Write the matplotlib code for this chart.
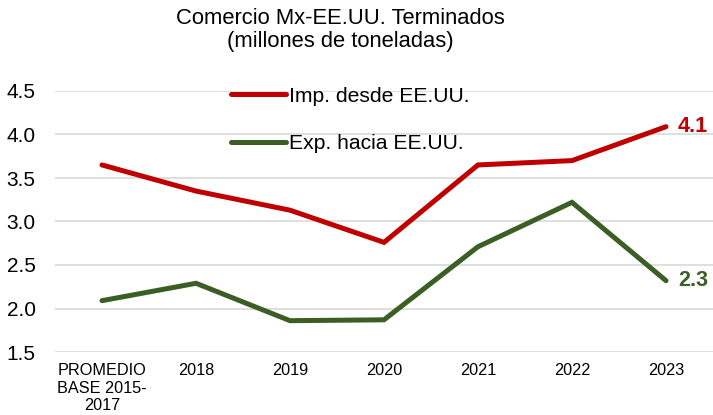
import matplotlib
matplotlib.use("Agg")
import matplotlib.pyplot as plt

categories = ["PROMEDIO\nBASE 2015-\n2017", "2018", "2019", "2020", "2021", "2022", "2023"]
imp_vals = [3.65, 3.35, 3.13, 2.76, 3.65, 3.70, 4.09]
exp_vals = [2.09, 2.29, 1.86, 1.87, 2.71, 3.22, 2.32]
yticks = [1.5, 2.0, 2.5, 3.0, 3.5, 4.0, 4.5]

plt.rcParams['font.family'] = ['Liberation Sans', 'DejaVu Sans']

red = "#C00000"
green = "#3B5E25"

fig = plt.figure(figsize=(7.13, 4.15), dpi=100)
ax = fig.add_axes([55/713, 1 - 352/415, (713-55)/713, (352-91)/415])

x = list(range(len(categories)))
ax.plot(x, imp_vals, color=red, lw=3.6, label="Imp. desde EE.UU.", solid_capstyle='round', solid_joinstyle='miter')
ax.plot(x, exp_vals, color=green, lw=3.6, label="Exp. hacia EE.UU.", solid_capstyle='round', solid_joinstyle='miter')

ax.set_xlim(-0.5, 6.5)
ax.set_ylim(1.5, 4.5)
ax.set_yticks(yticks)
ax.set_yticklabels([f"{v:.1f}" for v in yticks], fontsize=15)
ax.set_xticks(x)
ax.set_xticklabels(categories, fontsize=11.7, linespacing=1.2, va='top')
ax.tick_params(length=0, pad=8)
ax.tick_params(axis='y', pad=14)
ax.grid(axis='y', color='#D9D9D9', lw=1.2)
ax.set_axisbelow(True)
for s in ax.spines.values():
    s.set_visible(False)

ax.annotate(f"{imp_vals[-1]:.1f}", (x[-1], imp_vals[-1]), xytext=(8.5, 0), textcoords='offset points',
            color=red, fontsize=15.5, fontweight='bold', va='center', ha='left', annotation_clip=False)
ax.annotate(f"{exp_vals[-1]:.1f}", (x[-1], exp_vals[-1]), xytext=(8.5, 0), textcoords='offset points',
            color=green, fontsize=15.5, fontweight='bold', va='center', ha='left', annotation_clip=False)

leg = ax.legend(loc='upper left', bbox_to_anchor=(157/658, 1.09), frameon=False, fontsize=15.2,
                handlelength=2.6, handletextpad=0.15, labelspacing=1.35)

fig.text(340/713, 1 - 8/415, "Comercio Mx-EE.UU. Terminados\n(millones de toneladas)",
         ha='center', va='top', fontsize=15.8, linespacing=1.15)

fig.savefig("out.png", dpi=100)
